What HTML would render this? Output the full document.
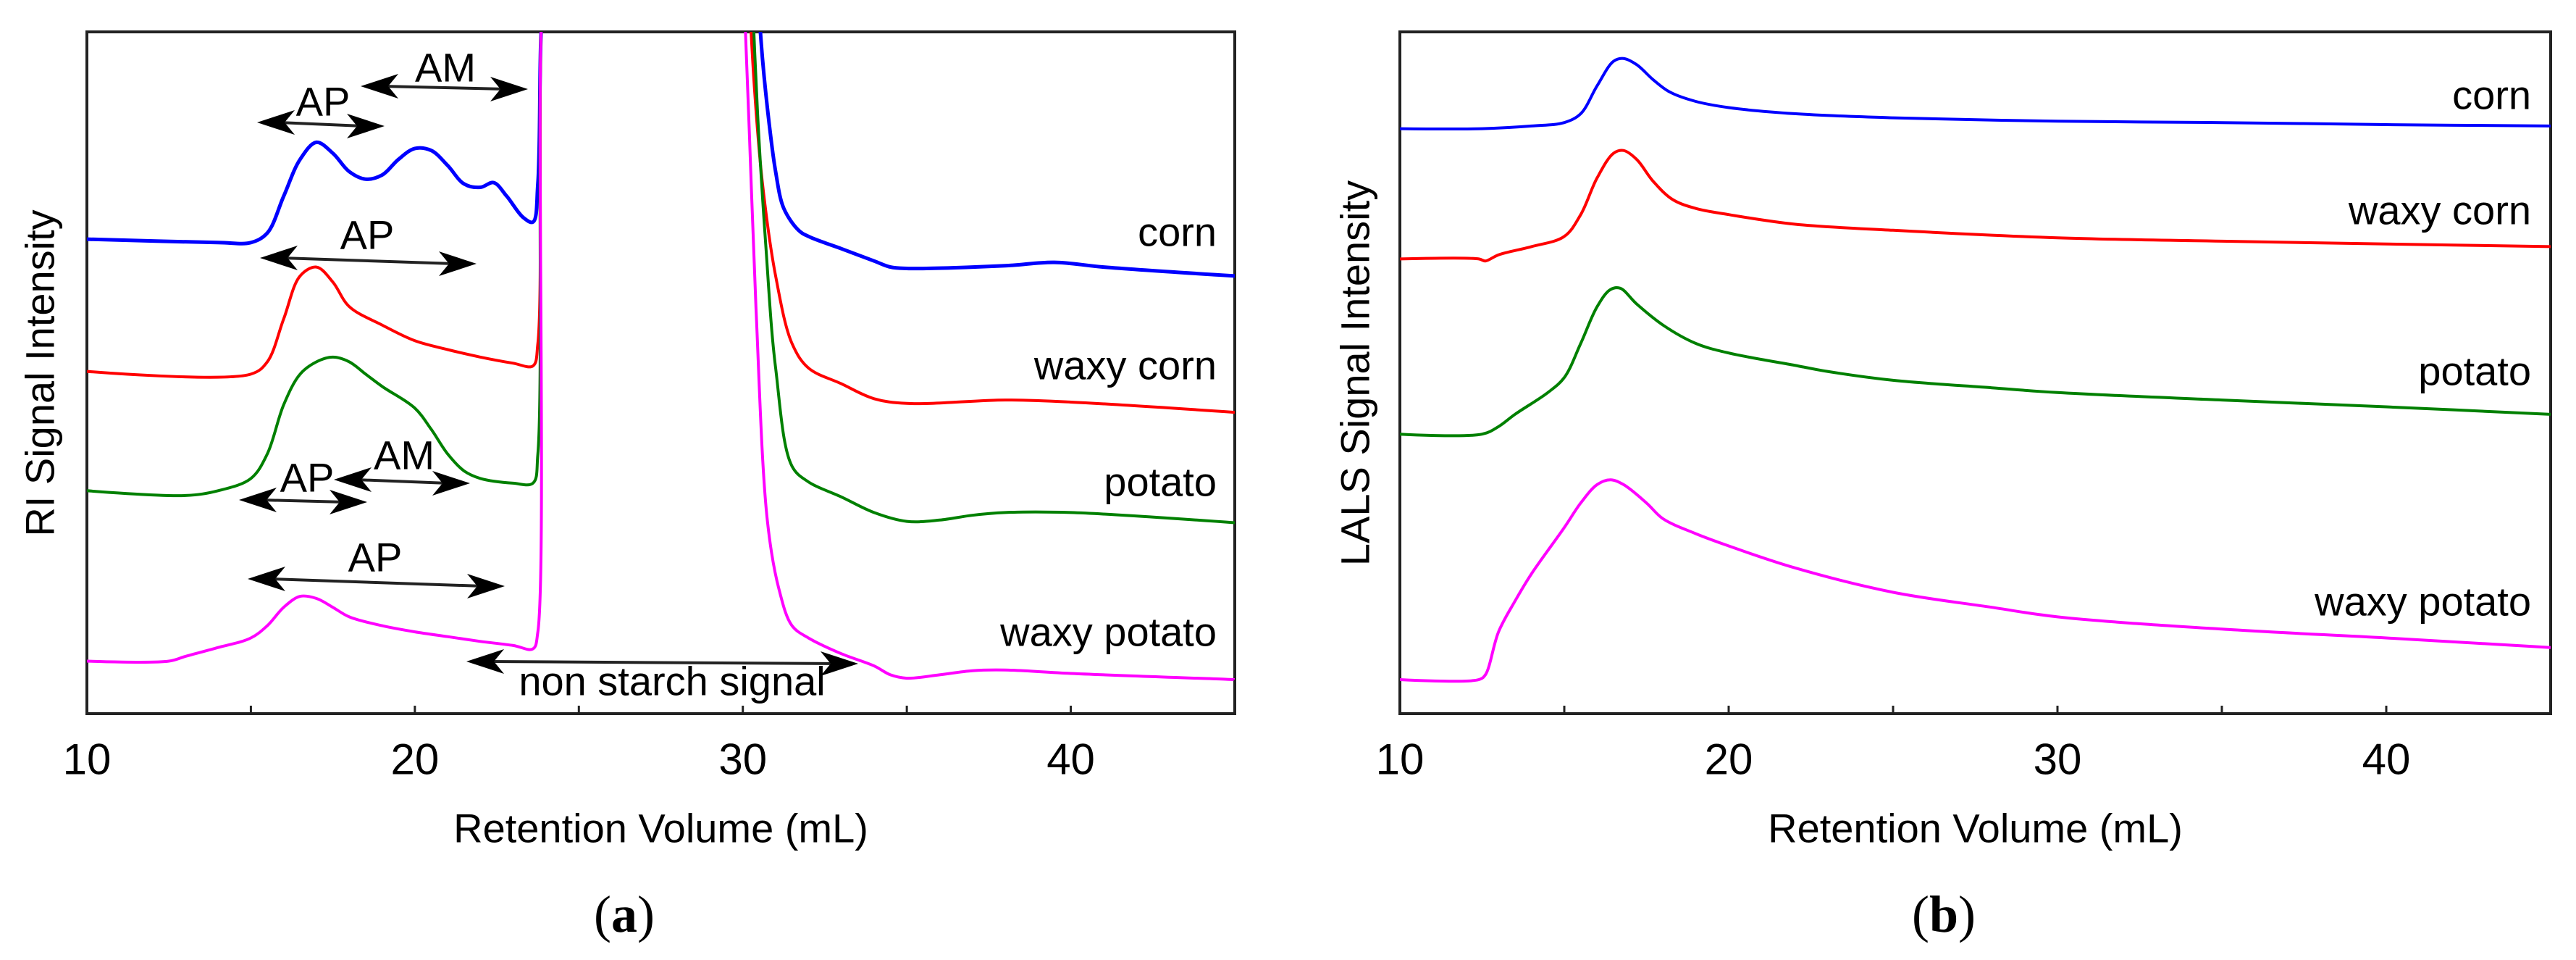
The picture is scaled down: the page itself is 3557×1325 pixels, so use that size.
<!DOCTYPE html>
<html><head><meta charset="utf-8">
<style>
html,body{margin:0;padding:0;background:#fff;}
svg{display:block;}
text{font-family:"Liberation Sans",Arial,sans-serif;fill:#000;}
.cap{font-family:"Liberation Serif",serif;}
</style></head>
<body>
<svg id="fig" xmlns="http://www.w3.org/2000/svg" width="3557" height="1325" viewBox="0 0 3557 1325">
<defs>
<clipPath id="clipA"><rect x="120" y="44" width="1585" height="941"/></clipPath>
<clipPath id="clipB"><rect x="1933" y="44" width="1589" height="941"/></clipPath>
</defs>
<g id="panelA"></g>
<g id="panelB"></g>
</svg>
<script>
// ---- data (x: retention volume mL, y: relative signal 0-100; >100 = off scale) ----
const xTicks = [10, 15, 20, 25, 30, 35, 40];
const xTickLabels = ["10", "20", "30", "40"];
const xLabelValues = [10, 20, 30, 40];

// Panel a (RI)
const riCornX = [10,14,15,15.5,16,16.5,17,17.5,18,18.5,19,19.5,20,20.5,21,21.5,22,22.4,22.8,23.3,23.6,23.75,23.85,24.0, 30.4,30.6,30.8,31.0,31.25,31.7,32,33,34,34.5,35,38,39.5,41,45];
const riCornY = [69.6,69.1,69.1,70.5,75.9,81.3,83.8,82.2,79.5,78.4,79.0,81.3,82.9,82.6,80.4,77.7,77.2,77.9,75.9,72.8,72.1,77.7,100,110, 110,96,86.7,79.5,74.1,70.9,70.0,68.2,66.4,65.5,65.3,65.7,66.2,65.5,64.2];
const riWaxyCornX = [10,15,15.5,16,16.5,17,17.5,18,19,20,21,22,23,23.6,23.75,23.85,24.0, 30.15,30.35,30.6,31,31.5,32,33,34,35,38,40,45];
const riWaxyCornY = [50.2,49.8,51.6,57.9,64.2,65.5,63.3,59.7,57.0,54.7,53.4,52.3,51.4,51.0,54.3,100,110, 110,92,77.7,64.2,54.3,50.7,48.4,46.2,45.5,46.0,45.7,44.2];
const riPotatoX = [10,13,14,15,15.5,16,16.5,17,17.5,18,18.5,19,20,20.5,21,21.5,22,23,23.6,23.75,23.85,24.0, 30.25,30.45,30.7,31,31.5,32,33,34,35,36,37,38,40,45];
const riPotatoY = [32.7,32.0,32.7,34.5,38.1,45.3,49.8,51.6,52.3,51.6,49.8,48.0,44.8,41.7,38.1,35.6,34.5,33.8,33.8,38.1,100,110, 110,88,68.7,50.7,36.3,34.0,31.8,29.5,28.2,28.4,29.1,29.5,29.5,28.0];
const riWaxyPotatoX = [10,12.5,13,14,15,15.5,16,16.5,17,17.5,18,19,20,21,22,23,23.6,23.75,23.85,24.0, 30.0,30.2,30.4,30.75,31.1,31.5,32,33,34,34.5,35,36,37,38,40,45];
const riWaxyPotatoY = [7.7,7.7,8.4,9.7,11.1,12.9,15.6,17.2,16.9,15.6,14.2,12.9,12.0,11.3,10.6,10.0,9.5,12.0,100,110, 110,85,59.7,28.2,18.3,12.9,11.1,8.8,7.0,5.7,5.2,5.7,6.3,6.4,5.9,5.0];

// Panel b (LALS)
const lsCornX = [10,12.5,14,15,15.5,16,16.5,16.8,17.2,17.7,18.2,19,20,22,25,30,35,40,45];
const lsCornY = [85.8,85.8,86.2,86.7,88.0,92.1,95.7,96.1,95.2,93.0,91.2,89.8,88.9,88.0,87.4,86.9,86.7,86.4,86.2];
const lsWaxyCornX = [10,12.4,12.6,13,14,15,15.5,16,16.5,16.8,17.2,17.7,18.3,19,20,22,25,30,35,40,45];
const lsWaxyCornY = [66.7,66.7,66.4,67.3,68.5,70.0,73.2,78.6,82.2,82.6,81.3,78.1,75.4,74.1,73.2,71.8,70.9,69.8,69.3,68.9,68.5];
const lsPotatoX = [10,12.5,13,13.5,14.5,15,15.5,16,16.4,16.7,17.2,18,19,20,22,23,25,28,30,35,40,45];
const lsPotatoY = [41.0,41.0,42.1,43.9,47.1,49.3,54.3,59.7,62.2,62.4,60.1,57.0,54.3,52.9,51.1,50.2,48.9,47.8,47.1,46.0,45.0,43.9];
const lsWaxyPotatoX = [10,12.4,12.6,13,13.5,14,15,15.5,16,16.4,16.8,17.5,18,19,20,22,25,28,30,35,40,45];
const lsWaxyPotatoY = [5.0,5.0,5.7,12.0,16.5,20.5,27.3,30.9,33.6,34.3,33.6,30.9,28.6,26.4,24.6,21.4,17.8,15.6,14.2,12.4,11.1,9.7];

const seriesNamesA = ["corn","waxy corn","potato","waxy potato"];
const seriesNamesB = ["corn","waxy corn","potato","waxy potato"];

// ---- layout ----
const NS = "http://www.w3.org/2000/svg";
function mk(tag, attrs, parent){const e=document.createElementNS(NS,tag);for(const k in attrs)e.setAttribute(k,attrs[k]);parent.appendChild(e);return e;}

const panels = {
  a:{g:document.getElementById('panelA'), left:120, right:1705, clip:'url(#clipA)'},
  b:{g:document.getElementById('panelB'), left:1933, right:3522, clip:'url(#clipB)'}
};
const TOP=44, BOTTOM=985;
function xs(p){return v => p.left + (v-10)/35*(p.right-p.left);}
function ys(v){return BOTTOM - v/100*(BOTTOM-TOP);}

function axes(p, name, ylab, ylabX, capText, capX){
  const X = xs(p), g = p.g;
  const fr = mk('rect',{x:p.left,y:TOP,width:p.right-p.left,height:BOTTOM-TOP,fill:'none',stroke:'#222','stroke-width':4},g);
  
  
  xTicks.forEach(t=>{
    const l=mk('line',{x1:X(t),x2:X(t),y1:BOTTOM,y2:BOTTOM-11,stroke:'#222','stroke-width':3},g);
    
    
  });
  xLabelValues.forEach((v,i)=>{
    const t=mk('text',{x:X(v),y:1048,'text-anchor':'middle','dominant-baseline':'central','font-size':60},g);
    t.textContent=xTickLabels[i];
    
    
  });
  const xt=mk('text',{x:(p.left+p.right)/2,y:1143,'text-anchor':'middle','dominant-baseline':'central','font-size':56},g);
  xt.textContent='Retention Volume (mL)';
  
  
  const yt=mk('text',{x:0,y:0,'text-anchor':'middle','dominant-baseline':'central','font-size':56,transform:`translate(${ylabX},515) rotate(-90)`},g);
  yt.textContent=ylab;
  
  
  const c=mk('text',{x:capX,y:1262,'text-anchor':'middle','dominant-baseline':'central','font-size':72,'class':'cap'},g);
  c.innerHTML='(<tspan font-weight="bold">'+capText+'</tspan>)';
  
  
}

// centripetal Catmull-Rom smoothing
function smoothPath(pts){
  let d='M'+pts[0][0].toFixed(1)+','+pts[0][1].toFixed(1);
  for(let i=0;i<pts.length-1;i++){
    const p0=pts[Math.max(i-1,0)], p1=pts[i], p2=pts[i+1], p3=pts[Math.min(i+2,pts.length-1)];
    const dist=(a,b)=>Math.pow(Math.hypot(b[0]-a[0],b[1]-a[1])+1e-6,0.5);
    const d1=dist(p0,p1), d2=dist(p1,p2), d3=dist(p2,p3);
    const b1=[(d1*d1*p2[0]-d2*d2*p0[0]+(2*d1*d1+3*d1*d2+d2*d2)*p1[0])/(3*d1*(d1+d2)),
              (d1*d1*p2[1]-d2*d2*p0[1]+(2*d1*d1+3*d1*d2+d2*d2)*p1[1])/(3*d1*(d1+d2))];
    const b2=[(d3*d3*p1[0]-d2*d2*p3[0]+(2*d3*d3+3*d3*d2+d2*d2)*p2[0])/(3*d3*(d3+d2)),
              (d3*d3*p1[1]-d2*d2*p3[1]+(2*d3*d3+3*d3*d2+d2*d2)*p2[1])/(3*d3*(d3+d2))];
    d+=` C${b1[0].toFixed(1)},${b1[1].toFixed(1)} ${b2[0].toFixed(1)},${b2[1].toFixed(1)} ${p2[0].toFixed(1)},${p2[1].toFixed(1)}`;
  }
  return d;
}

function line(p, xsArr, ysArr, color, w, name){
  const X = xs(p);
  // break the trace where it runs off-scale between two consecutive points
  const segs=[[]];
  xsArr.forEach((x,i)=>{
    if(i>0 && ysArr[i]>100 && ysArr[i-1]>100) segs.push([]);
    segs[segs.length-1].push([X(x), ys(ysArr[i])]);
  });
  const d = segs.filter(s=>s.length>1).map(smoothPath).join(' ');
  const path = mk('path',{d:d,fill:'none',stroke:color,'stroke-width':w,'stroke-linejoin':'round','clip-path':p.clip},p.g);
  
  
}

function label(p, txt, x, y, name){
  const t=mk('text',{x:x,y:y,'text-anchor':'end','dominant-baseline':'central','font-size':56},p.g);
  t.textContent=txt;
  
  
}

function head(g, x, y, dir){
  const L=52, H=17, N=14;
  const d=`M${x},${y} L${x-dir*L},${y-H} L${x-dir*(L-N)},${y} L${x-dir*L},${y+H} Z`;
  return mk('path',{d:d,fill:'#000'},g);
}
function darrow(g, x1,y1,x2,y2,name){
  const grp=mk('g',{},g);
  
  
  mk('line',{x1:x1+30,y1:y1,x2:x2-30,y2:y2,stroke:'#222','stroke-width':4},grp);
  head(grp,x1,y1,-1);
  head(grp,x2,y2,1);
}
function ann(g, txt, x, y, name){
  const t=mk('text',{x:x,y:y,'text-anchor':'middle','dominant-baseline':'central','font-size':56},g);
  t.textContent=txt;
  
  
}

// Panel a
const A = panels.a;
axes(A,'panel-a','RI Signal Intensity',55,'a',862);
line(A, riCornX, riCornY, '#0000ff', 5, 'ri-corn-line');
line(A, riWaxyCornX, riWaxyCornY, '#ff0000', 4, 'ri-waxy-corn-line');
line(A, riPotatoX, riPotatoY, '#008000', 4, 'ri-potato-line');
line(A, riWaxyPotatoX, riWaxyPotatoY, '#ff00ff', 4, 'ri-waxy-potato-line');
label(A, seriesNamesA[0], 1680, 320, 'ri-corn-label');
label(A, seriesNamesA[1], 1680, 504, 'ri-waxy-corn-label');
label(A, seriesNamesA[2], 1680, 665, 'ri-potato-label');
label(A, seriesNamesA[3], 1680, 872, 'ri-waxy-potato-label');
ann(A.g,'AM',615,93,'corn-am-label');   darrow(A.g,498,119,729,123,'corn-am-arrow');
ann(A.g,'AP',446,140,'corn-ap-label');  darrow(A.g,355,169,531,174,'corn-ap-arrow');
ann(A.g,'AP',507,324,'waxy-corn-ap-label'); darrow(A.g,359,356,658,364,'waxy-corn-ap-arrow');
ann(A.g,'AM',558,628,'potato-am-label'); darrow(A.g,461,662,649,667,'potato-am-arrow');
ann(A.g,'AP',424,659,'potato-ap-label'); darrow(A.g,330,690,507,693,'potato-ap-arrow');
ann(A.g,'AP',518,769,'waxy-potato-ap-label'); darrow(A.g,342,799,697,809,'waxy-potato-ap-arrow');
ann(A.g,'non starch signal',928,940,'non-starch-signal-label'); darrow(A.g,644,913,1185,916,'non-starch-signal-arrow');

// Panel b
const B = panels.b;
axes(B,'panel-b','LALS Signal Intensity',1871,'b',2684);
line(B, lsCornX, lsCornY, '#0000ff', 4, 'lals-corn-line');
line(B, lsWaxyCornX, lsWaxyCornY, '#ff0000', 4, 'lals-waxy-corn-line');
line(B, lsPotatoX, lsPotatoY, '#008000', 4, 'lals-potato-line');
line(B, lsWaxyPotatoX, lsWaxyPotatoY, '#ff00ff', 4, 'lals-waxy-potato-line');
label(B, seriesNamesB[0], 3495, 131, 'lals-corn-label');
label(B, seriesNamesB[1], 3495, 290, 'lals-waxy-corn-label');
label(B, seriesNamesB[2], 3495, 512, 'lals-potato-label');
label(B, seriesNamesB[3], 3495, 830, 'lals-waxy-potato-label');
</script>
</body></html>
